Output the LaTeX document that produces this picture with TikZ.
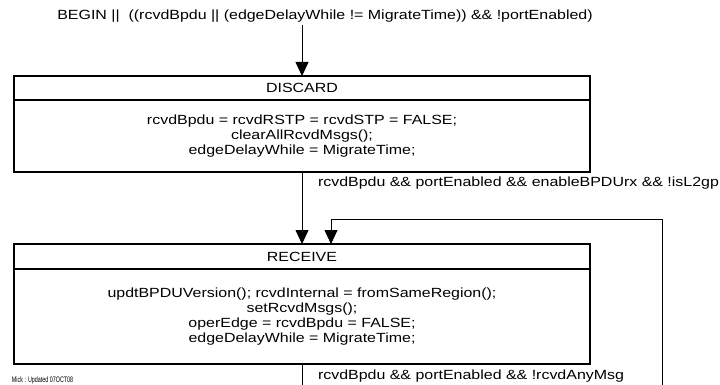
\documentclass[tikz,border=0pt]{standalone}
\usepackage{fontspec}
\setmainfont{Liberation Sans}[FakeStretch=1.2]
\usetikzlibrary{arrows.meta}
\begin{document}
\begin{tikzpicture}[x=1pt,y=-1pt,
  every node/.style={inner sep=0pt,outer sep=0pt},
  txt/.style={font=\fontsize{13.3}{14.8}\selectfont,align=center},
  statehdr/.style={txt,draw,line width=1.2pt,anchor=north west,
    minimum width=576pt,text width=570pt},
  statebody/.style={txt,draw,line width=1.2pt,anchor=north west,
    minimum width=576pt,text width=570pt},
  sepline/.style={line width=1.7pt},
  link/.style={line width=0.8pt},
  arr/.style={link,-{Triangle[length=14pt,width=13pt]}},
  cond/.style={txt,anchor=west}]
\useasboundingbox (0,0) rectangle (720,385);

% entry condition
\node[txt] (entry) at (325,16)
  {BEGIN ||\ \ ((rcvdBpdu || (edgeDelayWhile != MigrateTime)) \&\& !portEnabled)};

% DISCARD state
\node[statehdr,minimum height=24pt] (dhdr) at (14,76) {DISCARD};
\node[statebody,minimum height=72pt] (dbody) at (14,100)
  {rcvdBpdu = rcvdRSTP = rcvdSTP = FALSE;\\
   clearAllRcvdMsgs();\\
   edgeDelayWhile = MigrateTime;};
\draw[sepline] (dhdr.south west) -- (dhdr.south east);

% RECEIVE state
\node[statehdr,minimum height=25pt] (rhdr) at (14,244) {RECEIVE};
\node[statebody,minimum height=95pt] (rbody) at (14,269)
  {updtBPDUVersion(); rcvdInternal = fromSameRegion();\\
   setRcvdMsgs();\\
   operEdge = rcvdBpdu = FALSE;\\
   edgeDelayWhile = MigrateTime;};
\draw[sepline] (rhdr.south west) -- (rhdr.south east);

% connector anchors
\coordinate (mainx) at (302,0);
\coordinate (looptop) at (331,219);
\coordinate (loopbot) at (662,385);
\coordinate (exitbot) at (302,385);

% transitions
\draw[arr,shorten <=3pt] (entry.south -| mainx) -- (dhdr.north -| mainx);
\draw[arr] (dbody.south -| mainx) -- (rhdr.north -| mainx);
\draw[arr] (loopbot) |- (looptop) -- (rhdr.north -| looptop);
\draw[link] (rbody.south -| mainx) -- (exitbot);

% transition conditions
\node[cond] (c1) at (318,183)
  {rcvdBpdu \&\& portEnabled \&\& enableBPDUrx \&\& !isL2gp};
\node[cond] (c2) at (318,376)
  {rcvdBpdu \&\& portEnabled \&\& !rcvdAnyMsg};

% revision note
\node[anchor=west,font=\fontsize{8}{9}\selectfont] (note) at (12,380)
  {\scalebox{0.56}[1]{Mick : Updated 07OCT08}};
\end{tikzpicture}
\end{document}
